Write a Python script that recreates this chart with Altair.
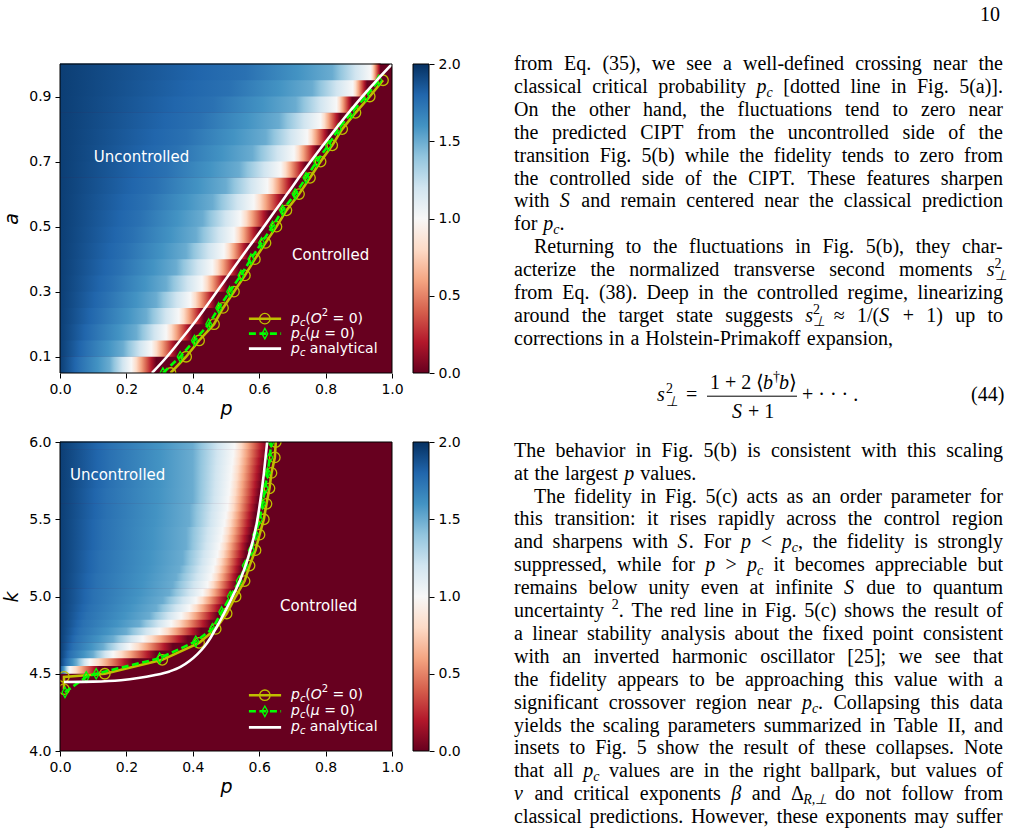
import re
import altair as alt
import pandas as pd

# ------------------------------------------------------------------ colours
RDBU = ['#67001f', '#b2182b', '#d6604d', '#f4a582', '#fddbc7', '#f7f7f7',
        '#d1e5f0', '#92c5de', '#4393c3', '#2166ac', '#053061']
VMIN, VMAX = 0.0, 2.0
YEL, GRN = '#bfbf00', '#00ff00'


def cmap(v):
    t = min(max((v - VMIN) / (VMAX - VMIN), 0.0), 1.0) * 10
    i = min(int(t), 9)
    f = t - i
    c0, c1 = RDBU[i], RDBU[i + 1]
    rgb = []
    for k in range(3):
        a = int(c0[1 + 2 * k:3 + 2 * k], 16)
        b = int(c1[1 + 2 * k:3 + 2 * k], 16)
        rgb.append(round(a + (b - a) * f))
    return '#%02x%02x%02x' % tuple(rgb)


# ------------------------------------------------------- panel (a): p vs a
# each row of the map: lower edge in a, and the p where the value is
# 1.75, 1.5, 1.0 and where it has fallen to 0
A_ROW_LO = [0.05, 0.10, 0.15, 0.20, 0.25, 0.30, 0.35, 0.40, 0.45, 0.50,
            0.55, 0.60, 0.65, 0.70, 0.75, 0.80, 0.85, 0.90, 0.95]
A_P175 = [0.06, 0.08, 0.10, 0.12, 0.14, 0.16, 0.18, 0.20, 0.22, 0.24,
          0.26, 0.29, 0.32, 0.35, 0.38, 0.42, 0.46, 0.51, 0.56]
A_P150 = [0.15, 0.19, 0.23, 0.26, 0.29, 0.32, 0.35, 0.38, 0.41, 0.43,
          0.46, 0.50, 0.54, 0.58, 0.62, 0.66, 0.71, 0.76, 0.82]
A_P100 = [0.215, 0.275, 0.320, 0.358, 0.393, 0.428, 0.459, 0.494, 0.524, 0.544,
          0.584, 0.625, 0.665, 0.705, 0.745, 0.785, 0.833, 0.882, 0.936]
A_P000 = [0.290, 0.355, 0.398, 0.434, 0.469, 0.504, 0.539, 0.569, 0.599, 0.630,
          0.675, 0.705, 0.740, 0.775, 0.810, 0.845, 0.880, 0.925, 0.966]

A_MARK_A = [0.05, 0.10, 0.15, 0.20, 0.25, 0.30, 0.35, 0.40, 0.45, 0.50,
            0.55, 0.60, 0.65, 0.70, 0.75, 0.80, 0.85, 0.90, 0.95]
A_CIRC_P = [0.333, 0.380, 0.419, 0.464, 0.491, 0.524, 0.557, 0.587, 0.619, 0.652,
            0.682, 0.720, 0.753, 0.785, 0.820, 0.850, 0.890, 0.933, 0.973]
A_DIAM_P = [0.310, 0.362, 0.405, 0.448, 0.478, 0.511, 0.545, 0.575, 0.607, 0.640,
            0.670, 0.708, 0.741, 0.773, 0.808, 0.838, 0.878, 0.921, 0.960]
A_ANA_P = [0.277, 0.322, 0.362, 0.401, 0.437, 0.472, 0.507, 0.542, 0.578, 0.614,
           0.649, 0.684, 0.719, 0.755, 0.792, 0.830, 0.869, 0.910, 0.954, 1.0]
A_ANA_A = [0.05, 0.10, 0.15, 0.20, 0.25, 0.30, 0.35, 0.40, 0.45, 0.50,
           0.55, 0.60, 0.65, 0.70, 0.75, 0.80, 0.85, 0.90, 0.95, 1.0]

# ------------------------------------------------------- panel (b): p vs k
K_ROW_LO = [4.50, 4.55, 4.60, 4.65, 4.70, 4.75, 4.80, 4.85, 4.90, 4.95,
            5.00, 5.05, 5.10, 5.15, 5.20, 5.25, 5.30, 5.35, 5.40, 5.45,
            5.50, 5.55, 5.60, 5.65, 5.70, 5.75, 5.80, 5.85, 5.90, 5.95]
K_P175 = [0.005, 0.02, 0.03, 0.04, 0.05, 0.06, 0.07, 0.08, 0.09, 0.10,
          0.10, 0.11, 0.11, 0.12, 0.12, 0.12, 0.13, 0.13, 0.13, 0.13,
          0.14, 0.14, 0.14, 0.14, 0.15, 0.15, 0.15, 0.15, 0.15, 0.15]
K_P150 = [0.015, 0.05, 0.10, 0.13, 0.16, 0.20, 0.24, 0.27, 0.29, 0.31,
          0.33, 0.34, 0.35, 0.36, 0.37, 0.37, 0.38, 0.38, 0.38, 0.39,
          0.39, 0.39, 0.40, 0.40, 0.40, 0.40, 0.40, 0.40, 0.40, 0.40]
K_P100 = [0.03, 0.09, 0.16, 0.21, 0.25, 0.30, 0.335, 0.365, 0.39, 0.41,
          0.43, 0.445, 0.455, 0.462, 0.468, 0.475, 0.480, 0.486, 0.490, 0.496,
          0.500, 0.505, 0.507, 0.510, 0.512, 0.515, 0.517, 0.520, 0.522, 0.526]
K_P000 = [0.12, 0.22, 0.29, 0.34, 0.385, 0.425, 0.455, 0.475, 0.492, 0.507,
          0.520, 0.530, 0.540, 0.547, 0.553, 0.560, 0.566, 0.572, 0.578, 0.583,
          0.588, 0.593, 0.598, 0.602, 0.606, 0.610, 0.613, 0.617, 0.622, 0.627]

K_CIRC_P = [0.012, 0.012, 0.135, 0.308, 0.419, 0.469, 0.502, 0.529, 0.556,
            0.571, 0.589, 0.601, 0.614, 0.622, 0.631, 0.637, 0.647, 0.650]
K_CIRC_K = [4.40, 4.48, 4.50, 4.59, 4.70, 4.79, 4.89, 5.00, 5.10,
            5.20, 5.30, 5.40, 5.50, 5.60, 5.70, 5.80, 5.90, 6.00]
K_DIAM_P = [0.015, 0.079, 0.109, 0.300, 0.409, 0.459, 0.487, 0.513, 0.540,
            0.558, 0.576, 0.589, 0.601, 0.610, 0.618, 0.625, 0.632, 0.636]
K_DIAM_K = [4.38, 4.48, 4.50, 4.60, 4.71, 4.79, 4.90, 5.00, 5.10,
            5.20, 5.30, 5.40, 5.50, 5.60, 5.70, 5.80, 5.90, 6.00]
K_ANA_P = [0.012, 0.10, 0.183, 0.283, 0.33, 0.363, 0.39, 0.414, 0.435, 0.454,
           0.479, 0.50, 0.519, 0.545, 0.564, 0.594, 0.614, 0.624]
K_ANA_K = [4.447, 4.449, 4.458, 4.49, 4.515, 4.544, 4.582, 4.627, 4.676, 4.735,
           4.83, 4.915, 4.997, 5.12, 5.234, 5.49, 5.795, 6.0]

P_TICKS = [0.0, 0.2, 0.4, 0.6, 0.8, 1.0]
A_TICKS = [0.1, 0.3, 0.5, 0.7, 0.9]
K_TICKS = [4.0, 4.5, 5.0, 5.5, 6.0]
CB_TICKS = [0.0, 0.5, 1.0, 1.5, 2.0]

PANEL_W, PANEL_H, CB_W = 332, 309, 16
GAP_CB, GAP_ROWS = 21, 69

# region names and legend rows (panel coordinates)
A_REGIONS = [(0.102, 0.715, 'Uncontrolled'), (0.699, 0.414, 'Controlled')]
K_REGIONS = [(0.030, 5.785, 'Uncontrolled'), (0.663, 4.937, 'Controlled')]
A_LEGEND_Y = [0.217, 0.171, 0.125]
K_LEGEND_Y = [4.361, 4.257, 4.153]
LEG_LINE_P = (0.569, 0.666)
LEG_MARK_P = 0.617
LEG_TEXT_P = 0.696
LEGEND_LABELS = [
    [('it', 'p'), ('sub', 'c'), ('rm', '('), ('it', 'O'), ('sup', '2'),
     ('sp', ' '), ('rm', '='), ('sp', ' '), ('rm', '0)')],
    [('it', 'p'), ('sub', 'c'), ('rm', '('), ('it', 'μ'),
     ('sp', ' '), ('rm', '='), ('sp', ' '), ('rm', '0)')],
    [('it', 'p'), ('sub', 'c'), ('sp', ' '), ('rm', 'analytical')],
]
# DejaVu Sans advance widths (1/1000 em)
DJV = {' ': 318, '(': 390, ')': 390, '=': 838, '0': 636, '2': 636, 'p': 635,
       'c': 550, 'O': 787, 'μ': 636, 'a': 613, 'n': 634, 'l': 278, 'y': 592,
       't': 392, 'i': 278}

DIAMOND = 'M0,-1L0.55,0L0,1L-0.55,0Z'

AX = dict(labelFont='DejaVu Sans', labelFontSize=14, labelColor='black',
          labelPadding=4, tickColor='black', tickSize=5, tickWidth=1,
          domain=False, grid=False, labelFlush=False, labelOverlap=False,
          titleFont='DejaVu Sans', titleFontSize=19, titleFontStyle='italic',
          titleFontWeight='normal', titleColor='black')


def row_gradient(p175, p150, p100, p000):
    marks = [(0.0, 1.95), (p175, 1.75), (p150, 1.5), (p100, 1.0), (p000, 0.0)]
    stops = []
    for (pa, va), (pb, vb) in zip(marks[:-1], marks[1:]):
        stops.append((pa, va))
        for j in range(10, -1, -1):
            v = 0.2 * j
            if vb + 1e-9 < v < va - 1e-9:
                stops.append((pa + (pb - pa) * (va - v) / (va - vb), v))
    stops.append(marks[-1])
    return alt.LinearGradient(
        gradient='linear', x1=0, y1=0, x2=1, y2=0,
        stops=[alt.GradientStop(color=cmap(v),
                                offset=round(min(max(p / p000, 0.0), 1.0), 4))
               for p, v in stops])


def legend_text_rows(y):
    rows = []
    for segs, yy in zip(LEGEND_LABELS, y):
        x = LEG_TEXT_P
        for style, txt in segs:
            size = 14.0 * (0.7 if style in ('sub', 'sup') else 1.0)
            if style != 'sp':
                rows.append({'px': x, 'py': yy, 't': txt, 's': style})
            x += sum(DJV.get(ch, 600) for ch in txt) / 1000 * size / PANEL_W
    return pd.DataFrame(rows)


def heat_panel(row_lo, step, p175, p150, p100, p000, ydom, yticks, ytitle,
               circ_p, circ_y, diam_p, diam_y, ana_p, ana_y, regions, leg_y):
    xs = alt.Scale(domain=[0, 1], nice=False, zero=False)
    ys = alt.Scale(domain=ydom, nice=False, zero=False)
    X = alt.X('px:Q', scale=xs,
              axis=alt.Axis(values=P_TICKS, format='.1f', title='p', titlePadding=3, **AX))
    Y = alt.Y('py:Q', scale=ys,
              axis=alt.Axis(values=yticks, format='.1f', title=ytitle, titlePadding=7, **AX))

    layers = []
    full = pd.DataFrame({'px': [0.0], 'px2': [1.0], 'py': [ydom[0]], 'py2': [ydom[1]]})
    layers.append(alt.Chart(full).mark_rect(color=RDBU[0])
                  .encode(x=X, x2='px2', y=Y, y2='py2'))

    for lo, a, b, c, d in zip(row_lo, p175, p150, p100, p000):
        row = pd.DataFrame({'px': [0.0], 'px2': [d], 'py': [lo], 'py2': [lo + step]})
        layers.append(alt.Chart(row).mark_rect(fill=row_gradient(a, b, c, d),
                                               strokeWidth=0, y2Offset=-0.6)
                      .encode(x=X, x2='px2', y=Y, y2='py2'))

    circ = pd.DataFrame({'px': circ_p, 'py': circ_y, 'i': range(len(circ_p))})
    diam = pd.DataFrame({'px': diam_p, 'py': diam_y, 'i': range(len(diam_p))})
    ana = pd.DataFrame({'px': ana_p, 'py': ana_y, 'i': range(len(ana_p))})

    layers += [
        alt.Chart(circ).mark_line(color=YEL, strokeWidth=2.6, clip=True)
        .encode(x=X, y=Y, order='i:Q'),
        alt.Chart(circ).mark_point(shape='circle', filled=False, size=110, color=YEL,
                                   strokeWidth=1.3, opacity=1, clip=True)
        .encode(x=X, y=Y),
        alt.Chart(diam).mark_line(color=GRN, strokeWidth=2.6, strokeDash=[7, 3.5], clip=True)
        .encode(x=X, y=Y, order='i:Q'),
        alt.Chart(diam).mark_point(shape=DIAMOND, filled=False, size=110, color=GRN,
                                   strokeWidth=1.3, opacity=1, clip=True)
        .encode(x=X, y=Y),
        alt.Chart(ana).mark_line(color='white', strokeWidth=2.6, clip=True, interpolate='monotone')
        .encode(x=X, y=Y, order='i:Q'),
    ]

    # legend
    leg_lines = pd.DataFrame({
        'px': [LEG_LINE_P[0], LEG_LINE_P[1]] * 3,
        'py': [leg_y[0]] * 2 + [leg_y[1]] * 2 + [leg_y[2]] * 2,
        'e': [0, 0, 1, 1, 2, 2]})
    styles = [dict(color=YEL), dict(color=GRN, strokeDash=[7, 3.5]), dict(color='white')]
    for e, st in enumerate(styles):
        layers.append(alt.Chart(leg_lines[leg_lines.e == e])
                      .mark_line(strokeWidth=2.6, **st).encode(x=X, y=Y))
    layers.append(alt.Chart(pd.DataFrame({'px': [LEG_MARK_P], 'py': [leg_y[0]]}))
                  .mark_point(shape='circle', filled=False, size=110, color=YEL,
                              strokeWidth=1.3, opacity=1).encode(x=X, y=Y))
    layers.append(alt.Chart(pd.DataFrame({'px': [LEG_MARK_P], 'py': [leg_y[1]]}))
                  .mark_point(shape=DIAMOND, filled=False, size=110, color=GRN,
                              strokeWidth=1.3, opacity=1).encode(x=X, y=Y))

    lt = legend_text_rows(leg_y)
    text_styles = {
        'rm': dict(fontSize=14),
        'it': dict(fontSize=14, fontStyle='italic'),
        'sub': dict(fontSize=10, fontStyle='italic', dy=4),
        'sup': dict(fontSize=10, dy=-6),
    }
    for s, st in text_styles.items():
        sub = lt[lt.s == s]
        if len(sub):
            layers.append(alt.Chart(sub).mark_text(align='left', baseline='middle',
                                                   font='DejaVu Sans', color='white', **st)
                          .encode(x=X, y=Y, text='t:N'))

    reg = pd.DataFrame({'px': [r[0] for r in regions], 'py': [r[1] for r in regions],
                        't': [r[2] for r in regions]})
    layers.append(alt.Chart(reg).mark_text(align='left', baseline='middle', font='DejaVu Sans',
                                           fontSize=15, color='white')
                  .encode(x=X, y=Y, text='t:N'))

    # frame
    layers.append(alt.Chart(full).mark_rect(fill='white', fillOpacity=0, stroke='black',
                                            strokeWidth=1)
                  .encode(x=X, x2='px2', y=Y, y2='py2'))

    heat = alt.layer(*layers).properties(width=PANEL_W, height=PANEL_H)

    cb_grad = alt.LinearGradient(
        gradient='linear', x1=0, y1=1, x2=0, y2=0,
        stops=[alt.GradientStop(color=c, offset=j / 10) for j, c in enumerate(RDBU)])
    cb = alt.Chart(pd.DataFrame({'c0': [0.0], 'c1': [1.0], 'v0': [VMIN], 'v1': [VMAX]})) \
        .mark_rect(fill=cb_grad, stroke='black', strokeWidth=1) \
        .encode(x=alt.X('c0:Q', scale=alt.Scale(domain=[0, 1], nice=False), axis=None),
                x2='c1',
                y=alt.Y('v0:Q', scale=alt.Scale(domain=[VMIN, VMAX], nice=False, zero=False),
                        axis=alt.Axis(orient='right', values=CB_TICKS, format='.1f',
                                      title=None, **{k: v for k, v in AX.items()
                                                     if not k.startswith('title')})),
                y2='v1') \
        .properties(width=CB_W, height=PANEL_H)
    return heat, cb


heat_a, cb_a = heat_panel(A_ROW_LO, 0.05, A_P175, A_P150, A_P100, A_P000, [0.05, 1.0],
                          A_TICKS, 'a', A_CIRC_P, A_MARK_A, A_DIAM_P, A_MARK_A,
                          A_ANA_P, A_ANA_A, A_REGIONS, A_LEGEND_Y)
heat_k, cb_k = heat_panel(K_ROW_LO, 0.05, K_P175, K_P150, K_P100, K_P000, [4.0, 6.0],
                          K_TICKS, 'k', K_CIRC_P, K_CIRC_K, K_DIAM_P, K_DIAM_K,
                          K_ANA_P, K_ANA_K, K_REGIONS, K_LEGEND_Y)

# ------------------------------------------------------------- text column
TIMES = {' ': 250, '!': 333, '(': 333, ')': 333, '+': 564, ',': 250, '-': 333, '.': 250,
         '/': 278, ':': 278, ';': 278, '<': 564, '=': 564, '>': 564, '[': 333, ']': 333,
         'A': 722, 'B': 667, 'C': 667, 'D': 722, 'E': 611, 'F': 556, 'G': 722, 'H': 722,
         'I': 333, 'J': 389, 'K': 722, 'L': 611, 'M': 889, 'N': 722, 'O': 722, 'P': 556,
         'Q': 722, 'R': 667, 'S': 556, 'T': 611, 'U': 722, 'V': 722, 'W': 944, 'X': 722,
         'Y': 722, 'Z': 611,
         'a': 444, 'b': 500, 'c': 444, 'd': 500, 'e': 444, 'f': 333, 'g': 500, 'h': 500,
         'i': 278, 'j': 278, 'k': 500, 'l': 278, 'm': 778, 'n': 500, 'o': 500, 'p': 500,
         'q': 500, 'r': 333, 's': 389, 't': 278, 'u': 500, 'v': 500, 'w': 722, 'x': 500,
         'y': 500, 'z': 444, 'ν': 500, 'β': 500, 'Δ': 612, '⊥': 600, '≈': 549,
         '·': 250, '⟨': 333, '⟩': 333, '†': 500}

TEXT_LEFT, TEXT_RIGHT, INDENT = 515.0, 1004.0, 20.0
FS_TEXT, FS_SCRIPT = 20.0, 14.0
BLOCK1_BASE, BLOCK2_BASE, LEAD = 69.3, 456.0, 22.9
PAGE_TOP = 63.3                                   # page row of the first panel's top edge
VIEW_LEFT = 61.0 + PANEL_W + GAP_CB + CB_W + GAP_CB   # page column where the text view starts

# (line, indented, justified)
BLOCK1 = [
    ("from Eq. (35), we see a well-defined crossing near the", 0, 1),
    ("classical critical probability {it:p}{sub:c} [dotted line in Fig. 5(a)].", 0, 1),
    ("On the other hand, the fluctuations tend to zero near", 0, 1),
    ("the predicted CIPT from the uncontrolled side of the", 0, 1),
    ("transition Fig. 5(b) while the fidelity tends to zero from", 0, 1),
    ("the controlled side of the CIPT. These features sharpen", 0, 1),
    ("with {it:S} and remain centered near the classical prediction", 0, 1),
    ("for {it:p}{sub:c}.", 0, 0),
    ("Returning to the fluctuations in Fig. 5(b), they char-", 1, 1),
    ("acterize the normalized transverse second moments {it:s}{sup0:2}{sub:⊥}", 0, 1),
    ("from Eq. (38). Deep in the controlled regime, linearizing", 0, 1),
    ("around the target state suggests {it:s}{sup0:2}{sub:⊥} ≈ 1/({it:S} + 1) up to", 0, 1),
    ("corrections in a Holstein-Primakoff expansion,", 0, 0),
]
BLOCK2 = [
    ("The behavior in Fig. 5(b) is consistent with this scaling", 0, 1),
    ("at the largest {it:p} values.", 0, 0),
    ("The fidelity in Fig. 5(c) acts as an order parameter for", 1, 1),
    ("this transition: it rises rapidly across the control region", 0, 1),
    ("and sharpens with {it:S}. For {it:p} < {it:p}{sub:c}, the fidelity is strongly", 0, 1),
    ("suppressed, while for {it:p} > {it:p}{sub:c} it becomes appreciable but", 0, 1),
    ("remains below unity even at infinite {it:S} due to quantum", 0, 1),
    ("uncertainty {sup:2}. The red line in Fig. 5(c) shows the result of", 0, 1),
    ("a linear stability analysis about the fixed point consistent", 0, 1),
    ("with an inverted harmonic oscillator [25]; we see that", 0, 1),
    ("the fidelity appears to be approaching this value with a", 0, 1),
    ("significant crossover region near {it:p}{sub:c}. Collapsing this data", 0, 1),
    ("yields the scaling parameters summarized in Table II, and", 0, 1),
    ("insets to Fig. 5 show the result of these collapses. Note", 0, 1),
    ("that all {it:p}{sub:c} values are in the right ballpark, but values of", 0, 1),
    ("{it:ν} and critical exponents {it:β} and Δ{sub:R,⊥} do not follow from", 0, 1),
    ("classical predictions. However, these exponents may suffer", 0, 1),
]
# displayed equation (44) and page number: style, text, x, baseline
EQUATION = [('it', 's', 658, 400), ('sup', '2', 667, 400), ('sub', '⊥', 667, 401),
            ('rm', '=', 687, 400),
            ('rm', '1 + 2', 711, 388), ('rm', '⟨', 757, 388), ('it', 'b', 764, 388),
            ('sup', '†', 774, 388), ('it', 'b', 780, 388), ('rm', '⟩', 790, 388),
            ('it', 'S', 733, 417), ('rm', '+ 1', 749, 417),
            ('rm', '+ · · · .', 803, 400), ('rm', '(44)', 972, 400),
            ('rm', '10', 981, 20)]
FRACTION_BAR = (708, 798, 395.5)

SEG_RE = re.compile(r'\{(\w+):([^}]*)\}|([^{]+)')


def segments(word):
    return [(m.group(1), m.group(2)) if m.group(1) else ('rm', m.group(3))
            for m in SEG_RE.finditer(word)]


def advance(style, txt):
    if style == 'sup0':
        return 0.0
    size = FS_SCRIPT if style in ('sub', 'sup') else FS_TEXT
    return sum(TIMES.get(ch, 500) for ch in txt) / 1000 * size


text_rows = []
for block, base in ((BLOCK1, BLOCK1_BASE), (BLOCK2, BLOCK2_BASE)):
    for n, (line, indented, justified) in enumerate(block):
        y = base + n * LEAD
        words = [segments(w) for w in line.split(' ')]
        widths = [sum(advance(s, t) for s, t in w) for w in words]
        start = TEXT_LEFT + INDENT * indented
        if justified and len(words) > 1:
            gap = max((TEXT_RIGHT - start - sum(widths)) / (len(words) - 1), 3.0)
        else:
            gap = 6.0
        x = start
        for w, wd in zip(words, widths):
            xx = x
            for s, t in w:
                text_rows.append({'x': xx, 'y': y, 't': t, 's': s})
                xx += advance(s, t)
            x += wd + gap
for s, t, x, y in EQUATION:
    text_rows.append({'x': x, 'y': y, 't': t, 's': s})
text_df = pd.DataFrame(text_rows)

TX = alt.X('x:Q', scale=alt.Scale(domain=[VIEW_LEFT, TEXT_RIGHT], nice=False, zero=False),
           axis=None)
TY = alt.Y('y:Q', scale=alt.Scale(domain=[PAGE_TOP, PAGE_TOP + PANEL_H], nice=False,
                                  zero=False, reverse=True), axis=None)
TEXT_STYLES = {
    'rm': dict(fontSize=FS_TEXT),
    'it': dict(fontSize=FS_TEXT, fontStyle='italic'),
    'sub': dict(fontSize=FS_SCRIPT, fontStyle='italic', dy=4),
    'sup': dict(fontSize=FS_SCRIPT, dy=-8),
    'sup0': dict(fontSize=FS_SCRIPT, dy=-8),
}
text_layers = []
for s, st in TEXT_STYLES.items():
    sub = text_df[text_df.s == s]
    if len(sub):
        text_layers.append(alt.Chart(sub).mark_text(align='left', baseline='alphabetic',
                                                    font='Liberation Serif', color='black', **st)
                           .encode(x=TX, y=TY, text='t:N'))
bar = pd.DataFrame({'x': [FRACTION_BAR[0]], 'x2': [FRACTION_BAR[1]], 'y': [FRACTION_BAR[2]]})
text_layers.append(alt.Chart(bar).mark_rule(color='black', strokeWidth=1)
                   .encode(x=TX, x2='x2', y=TY))
text_col = alt.layer(*text_layers).properties(width=int(round(TEXT_RIGHT - VIEW_LEFT)),
                                              height=PANEL_H)

chart = alt.concat(heat_a, cb_a, text_col, heat_k, cb_k, columns=3,
                   spacing={'row': GAP_ROWS, 'column': GAP_CB}, bounds='flush').properties(
    padding={'left': 2, 'top': 4, 'right': 0, 'bottom': 0},
    background='white',
).configure_view(stroke=None)

chart.save("out.html", embed_options={"renderer": "svg", "actions": False})
